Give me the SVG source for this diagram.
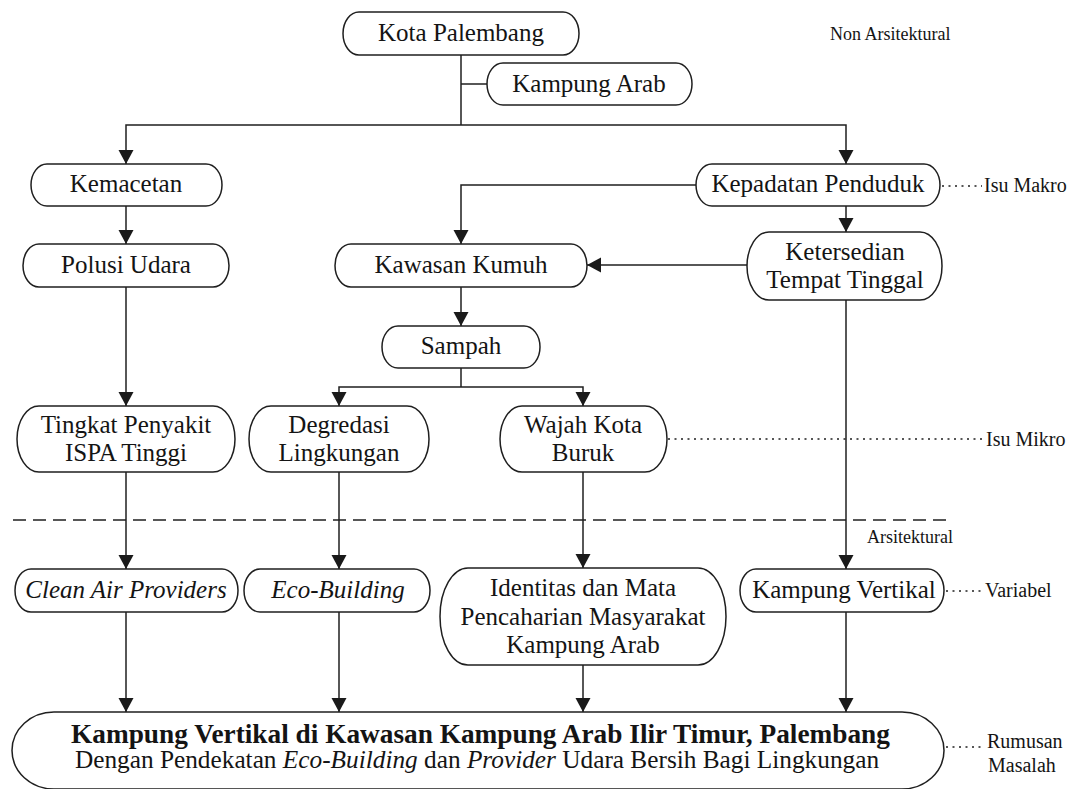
<svg xmlns="http://www.w3.org/2000/svg" width="1077" height="789" viewBox="0 0 1077 789">
  <style>
    .box { fill: #ffffff; stroke: #1f1f1f; stroke-width: 1.5; }
    .lbl { font-family: 'Liberation Serif', 'DejaVu Serif', serif; font-size: 25px; fill: #141414; text-anchor: middle; }
    .it { font-style: italic; }
    .title { font-weight: bold; font-size: 27.3px; }
    .sub { font-size: 25.3px; }
    .side { font-family: 'Liberation Serif', 'DejaVu Serif', serif; font-size: 20px; fill: #141414; }
    .small { font-size: 18px; }
    .wire { fill: none; stroke: #1f1f1f; stroke-width: 1.5; }
    .arr { marker-end: url(#arrow); }
    .dot { fill: none; stroke: #1f1f1f; stroke-width: 1.4; stroke-dasharray: 2 4.5; }
    .dash { fill: none; stroke: #1f1f1f; stroke-width: 1.5; stroke-dasharray: 13 7; }
  </style>
  <defs>
    <marker id="arrow" viewBox="0 0 14 16" refX="14" refY="8" markerWidth="14" markerHeight="16" markerUnits="userSpaceOnUse" orient="auto">
      <path d="M0,0.5 L14,8 L0,15.5 Z" fill="#1a1a1a"/>
    </marker>
  </defs>
  <rect width="1077" height="789" fill="#ffffff"/>

  <!-- connectors -->
  <g id="connectors">
    <path class="wire" d="M461,55 V125"/>
    <path class="wire" d="M461,84 H487"/>
    <path class="wire arr" d="M461,125 H126 V164"/>
    <path class="wire arr" d="M461,125 H846 V164"/>
    <path class="wire arr" d="M126,206 V244"/>
    <path class="wire arr" d="M126,287 V406"/>
    <path class="wire arr" d="M126,472 V569"/>
    <path class="wire arr" d="M126,612 V712"/>
    <path class="wire arr" d="M696,185 H461 V244"/>
    <path class="wire arr" d="M846,206 V232"/>
    <path class="wire arr" d="M747,265 H587"/>
    <path class="wire arr" d="M846,300 V569"/>
    <path class="wire arr" d="M461,287 V326"/>
    <path class="wire" d="M461,368 V387"/>
    <path class="wire arr" d="M461,387 H339 V406"/>
    <path class="wire arr" d="M461,387 H583 V406"/>
    <path class="wire arr" d="M339,472 V569"/>
    <path class="wire arr" d="M339,612 V712"/>
    <path class="wire arr" d="M583,472 V568"/>
    <path class="wire arr" d="M583,665 V712"/>
    <path class="wire arr" d="M846,612 V712"/>
    <!-- level markers -->
    <path class="dot" d="M942,186 H982"/>
    <path class="dot" d="M668,439 H983"/>
    <path class="dot" d="M946,591 H982"/>
    <path class="dot" d="M946,747 H983"/>
    <path class="dash" d="M13,520 H946"/>
  </g>

  <g id="n-kota">
    <path class="box" d="M359,12 H563 A16,21.5 0 0 1 563,55 H359 A16,21.5 0 0 1 359,12 Z"/>
    <text class="lbl" x="461" y="41">Kota Palembang</text>
  </g>
  <g id="n-kampung-arab">
    <path class="box" d="M503,63 H676 A16,21 0 0 1 676,105 H503 A16,21 0 0 1 503,63 Z"/>
    <text class="lbl" x="589" y="92">Kampung Arab</text>
  </g>
  <g id="n-kemacetan">
    <path class="box" d="M47,164 H206 A16,21 0 0 1 206,206 H47 A16,21 0 0 1 47,164 Z"/>
    <text class="lbl" x="126" y="192">Kemacetan</text>
  </g>
  <g id="n-kepadatan">
    <path class="box" d="M712,164 H924 A16,21 0 0 1 924,206 H712 A16,21 0 0 1 712,164 Z"/>
    <text class="lbl" x="818" y="192">Kepadatan Penduduk</text>
  </g>
  <g id="n-polusi">
    <path class="box" d="M39,244 H213 A16,21.5 0 0 1 213,287 H39 A16,21.5 0 0 1 39,244 Z"/>
    <text class="lbl" x="126" y="273">Polusi Udara</text>
  </g>
  <g id="n-kawasan">
    <path class="box" d="M351,244 H571 A16,21.5 0 0 1 571,287 H351 A16,21.5 0 0 1 351,244 Z"/>
    <text class="lbl" x="461" y="273">Kawasan Kumuh</text>
  </g>
  <g id="n-ketersedian">
    <path class="box" d="M769,232 H920 A22,34 0 0 1 920,300 H769 A22,34 0 0 1 769,232 Z"/>
    <text class="lbl" x="845" y="260">Ketersedian</text>
    <text class="lbl" x="845" y="288">Tempat Tinggal</text>
  </g>
  <g id="n-sampah">
    <path class="box" d="M398,326 H524 A16,21 0 0 1 524,368 H398 A16,21 0 0 1 398,326 Z"/>
    <text class="lbl" x="461" y="354">Sampah</text>
  </g>
  <g id="n-ispa">
    <path class="box" d="M39,406 H213 A22,33 0 0 1 213,472 H39 A22,33 0 0 1 39,406 Z"/>
    <text class="lbl" x="126" y="433">Tingkat Penyakit</text>
    <text class="lbl" x="126" y="461">ISPA Tinggi</text>
  </g>
  <g id="n-degredasi">
    <path class="box" d="M271,406 H407 A22,33 0 0 1 407,472 H271 A22,33 0 0 1 271,406 Z"/>
    <text class="lbl" x="339" y="433">Degredasi</text>
    <text class="lbl" x="339" y="461">Lingkungan</text>
  </g>
  <g id="n-wajah">
    <path class="box" d="M522,406 H645 A22,33 0 0 1 645,472 H522 A22,33 0 0 1 522,406 Z"/>
    <text class="lbl" x="583" y="433">Wajah Kota</text>
    <text class="lbl" x="583" y="461">Buruk</text>
  </g>
  <g id="n-clean-air">
    <path class="box" d="M31,569 H222 A16,21.5 0 0 1 222,612 H31 A16,21.5 0 0 1 31,569 Z"/>
    <text class="lbl it" x="126" y="598">Clean Air Providers</text>
  </g>
  <g id="n-eco">
    <path class="box" d="M260,569 H414 A16,21.5 0 0 1 414,612 H260 A16,21.5 0 0 1 260,569 Z"/>
    <text class="lbl it" x="338" y="598">Eco-Building</text>
  </g>
  <g id="n-identitas">
    <path class="box" d="M468,568 H698 A28,48.5 0 0 1 698,665 H468 A28,48.5 0 0 1 468,568 Z"/>
    <text class="lbl" x="583" y="596">Identitas dan Mata</text>
    <text class="lbl" x="583" y="625">Pencaharian Masyarakat</text>
    <text class="lbl" x="583" y="653">Kampung Arab</text>
  </g>
  <g id="n-kampung-vertikal">
    <path class="box" d="M756,569 H928 A16,21.5 0 0 1 928,612 H756 A16,21.5 0 0 1 756,569 Z"/>
    <text class="lbl" x="844" y="598">Kampung Vertikal</text>
  </g>
  <g id="n-rumusan">
    <path class="box" d="M54,712 H902 A42,38.5 0 0 1 902,789 H54 A42,38.5 0 0 1 54,712 Z"/>
    <text class="lbl title" x="480.5" y="743">Kampung Vertikal di Kawasan Kampung Arab Ilir Timur, Palembang</text>
    <text class="lbl sub" x="477" y="768">Dengan Pendekatan <tspan class="it">Eco-Building</tspan> dan <tspan class="it">Provider</tspan> Udara Bersih Bagi Lingkungan</text>
  </g>

  <g id="side-labels">
    <text class="side small" x="830" y="40">Non Arsitektural</text>
    <text class="side" x="984" y="192">Isu Makro</text>
    <text class="side" x="986" y="446">Isu Mikro</text>
    <text class="side small" x="867" y="543">Arsitektural</text>
    <text class="side" x="985" y="597">Variabel</text>
    <text class="side" x="987" y="748">Rumusan</text>
    <text class="side" x="988" y="772">Masalah</text>
  </g>
</svg>
